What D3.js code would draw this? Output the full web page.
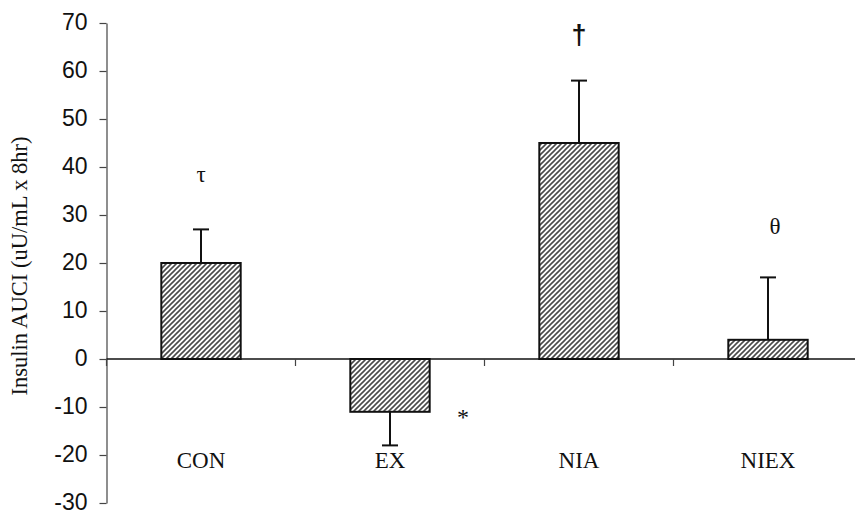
<!DOCTYPE html>
<html>
<head>
<meta charset="utf-8">
<script src="https://cdn.jsdelivr.net/npm/d3@7"></script>
<style>
  html, body { margin: 0; padding: 0; background: #fff; }
  svg { display: block; }
</style>
</head>
<body>
<svg id="chart" width="855" height="514"></svg>
<script>
// Insulin AUCI by group, mean with one-sided SE bars
const groups = ["CON", "EX", "NIA", "NIEX"];
const means = [20, -11, 45, 4];
const errors = [7, 7, 13, 13];
const marks = ["τ", "*", "†", "θ"];
const yTicks = [70, 60, 50, 40, 30, 20, 10, 0, -10, -20, -30];

const svg = d3.select("#chart");
const W = 855, H = 514;

const x = d3.scaleBand().domain(groups).range([106.5, 862.5]).paddingInner(0).paddingOuter(0);
const y = d3.scaleLinear().domain([-30, 70]).range([503, 23]);
const barW = x.bandwidth() * 0.42;

// diagonal hatch fill
const defs = svg.append("defs");
const pat = defs.append("pattern")
  .attr("id", "hatch")
  .attr("patternUnits", "userSpaceOnUse")
  .attr("width", 5).attr("height", 5);
pat.append("rect").attr("width", 5).attr("height", 5).attr("fill", "#fff");
pat.append("path")
  .attr("d", "M0,5 L5,0 M-1,1 L1,-1 M4,6 L6,4")
  .attr("stroke", "#4a4a4a").attr("stroke-width", 1.6);

// y axis (plain hyphen for negatives)
const yAxis = d3.axisLeft(y).tickValues(yTicks).tickFormat(d => String(d))
  .tickSize(7).tickPadding(12).tickSizeOuter(0);
const gy = svg.append("g").attr("transform", "translate(106.5,0)").call(yAxis);
gy.select(".domain").attr("stroke", "#444").attr("stroke-width", 1.2);
gy.selectAll(".tick line").attr("stroke", "#444").attr("stroke-width", 1.2);
gy.selectAll(".tick text")
  .attr("font-family", "'Liberation Sans', Arial, sans-serif")
  .attr("font-size", 23)
  .attr("dy", "0.3em")
  .attr("fill", "#111");

// y axis title
svg.append("text")
  .attr("transform", "translate(27,266) rotate(-90)")
  .attr("text-anchor", "middle")
  .attr("font-family", "'Liberation Serif', 'Times New Roman', serif")
  .attr("font-size", 22.5)
  .attr("fill", "#111")
  .text("Insulin AUCI (uU/mL x 8hr)");

// bars
const data = groups.map((g, i) => ({ g, v: means[i], e: errors[i], m: marks[i] }));
const cx = d => x(d.g) + x.bandwidth() / 2;

svg.append("g").selectAll("rect").data(data).join("rect")
  .attr("x", d => cx(d) - barW / 2)
  .attr("y", d => y(Math.max(0, d.v)))
  .attr("width", barW)
  .attr("height", d => Math.abs(y(d.v) - y(0)))
  .attr("fill", "url(#hatch)")
  .attr("stroke", "#111")
  .attr("stroke-width", 2);

// error bars (away from zero)
const eg = svg.append("g").attr("stroke", "#111").attr("stroke-width", 2);
data.forEach(d => {
  const sgn = d.v >= 0 ? 1 : -1;
  const yEnd = y(d.v + sgn * d.e);
  eg.append("line").attr("x1", cx(d)).attr("x2", cx(d)).attr("y1", y(d.v)).attr("y2", yEnd);
  eg.append("line").attr("x1", cx(d) - 8).attr("x2", cx(d) + 8).attr("y1", yEnd).attr("y2", yEnd);
});

// zero line with category dividers
const x0 = y(0);
svg.append("line")
  .attr("x1", 106.5).attr("x2", W).attr("y1", x0).attr("y2", x0)
  .attr("stroke", "#111").attr("stroke-width", 1.6);
const bounds = groups.map(g => x(g));
svg.append("g").selectAll("line").data(bounds).join("line")
  .attr("x1", d => d).attr("x2", d => d)
  .attr("y1", x0).attr("y2", x0 + 7)
  .attr("stroke", "#444").attr("stroke-width", 1.2);

// category labels
svg.append("g").selectAll("text").data(groups).join("text")
  .attr("x", g => x(g) + x.bandwidth() / 2)
  .attr("y", 468)
  .attr("text-anchor", "middle")
  .attr("font-family", "'Liberation Serif', 'Times New Roman', serif")
  .attr("font-size", 23)
  .attr("fill", "#111")
  .text(g => g);

// significance marks
const markStyle = {
  "CON":  { dx: 0,  y: 182, size: 23, font: "'Liberation Serif', serif", weight: "normal" },
  "EX":   { dx: 73, y: 425, size: 24, font: "'Liberation Serif', serif", weight: "normal" },
  "NIA":  { dx: 0,  y: 44,  size: 27, font: "'Liberation Sans', Arial, sans-serif", weight: "bold" },
  "NIEX": { dx: 7,  y: 234, size: 23, font: "'Liberation Serif', serif", weight: "normal" }
};
svg.append("g").selectAll("text").data(data).join("text")
  .attr("x", d => cx(d) + markStyle[d.g].dx)
  .attr("y", d => markStyle[d.g].y)
  .attr("text-anchor", "middle")
  .attr("font-family", d => markStyle[d.g].font)
  .attr("font-weight", d => markStyle[d.g].weight)
  .attr("font-size", d => markStyle[d.g].size)
  .attr("fill", "#111")
  .text(d => d.m);
</script>
</body>
</html>
